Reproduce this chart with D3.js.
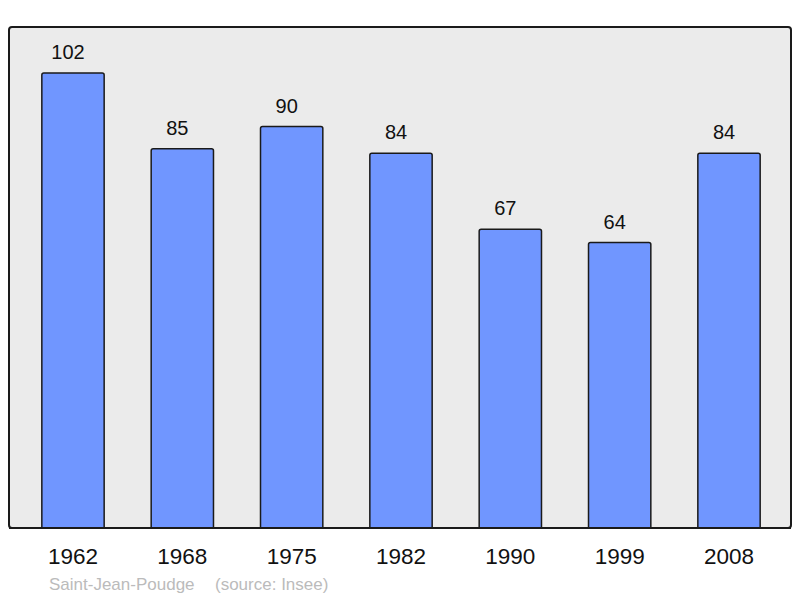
<!DOCTYPE html>
<html><head><meta charset="utf-8">
<script src="https://cdn.jsdelivr.net/npm/d3@7"></script>
<style>html,body{margin:0;padding:0;background:#fff;}svg{display:block;font-family:"Liberation Sans",Arial,sans-serif;}</style>
</head><body>
<svg id="chart" width="800" height="598"></svg>
<script>
const years = ["1962","1968","1975","1982","1990","1999","2008"];
const population = [102, 85, 90, 84, 67, 64, 84];
const commune = "Saint-Jean-Poudge";
const source = "(source: Insee)";

const svg = d3.select("#chart");
svg.append("rect").attr("x",0).attr("y",0).attr("width",800).attr("height",598).attr("fill","#fff");
svg.append("rect").attr("x",9).attr("y",27).attr("width",782).attr("height",501)
  .attr("rx",3).attr("fill","#ebebeb").attr("stroke","#1a1a1a").attr("stroke-width",2);

const x = d3.scaleBand().domain(years).range([18.33, 783.67]).paddingInner(0.43).paddingOuter(0.215);
const y = d3.scaleLinear().domain([0, 102]).range([528, 73]);

const g = svg.append("g");
g.selectAll("path.bar").data(years).join("path").attr("class","bar")
  .attr("d",(d,i)=>{
    const x0=x(d), x1=x(d)+x.bandwidth(), t=y(population[i]), b=y(0), r=2;
    return `M${x0},${b}V${t+r}Q${x0},${t} ${x0+r},${t}H${x1-r}Q${x1},${t} ${x1},${t+r}V${b}`;
  })
  .attr("fill","#7096ff").attr("stroke","#1a1a1a").attr("stroke-width",1.5);

g.selectAll("text.val").data(years).join("text").attr("class","val")
  .attr("x",d=>x(d)+x.bandwidth()/2-5).attr("y",(d,i)=>y(population[i])-14)
  .attr("text-anchor","middle").attr("font-size",20).attr("fill","#111")
  .text((d,i)=>population[i]);

svg.append("line").attr("x1",9).attr("x2",791).attr("y1",528).attr("y2",528).attr("stroke","#1a1a1a").attr("stroke-width",2);

const axis = d3.axisBottom(x).tickSize(0).tickPadding(0);
const ax = svg.append("g").attr("transform","translate(0,528)").call(axis);
ax.select(".domain").remove();
ax.selectAll("text").attr("y",36).attr("dy",0).attr("font-size",22.5).attr("fill","#111")
  .attr("font-family","Liberation Sans, Arial, sans-serif");

svg.append("text").attr("x",49).attr("y",590).attr("font-size",17).attr("fill","#bbbbbb")
  .text(commune);
svg.append("text").attr("x",215).attr("y",590).attr("font-size",17).attr("fill","#bbbbbb")
  .text(source);
</script>
</body></html>
